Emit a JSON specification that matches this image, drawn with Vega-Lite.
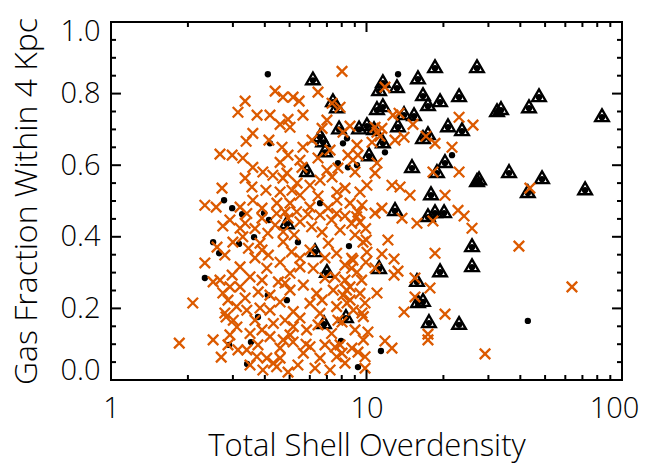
{
  "$schema": "https://vega.github.io/schema/vega-lite/v6.json",
  "width": 511,
  "height": 358,
  "autosize": "none",
  "padding": {"left": 111, "top": 22, "right": 25, "bottom": 86},
  "background": "white",
  "config": {
    "view": {"stroke": "black", "strokeWidth": 2},
    "axis": {
      "domain": false, "ticks": false, "tickSize": 0, "grid": false,
      "labelFont": "Open Sans", "labelFontSize": 29, "labelColor": "black", "labelFontWeight": 350,
      "titleFont": "Open Sans", "titleFontSize": 31, "titleFontWeight": 350, "titleColor": "black",
      "labelOverlap": false
    }
  },
  "datasets": {
    "xmaj": [{"v":1},{"v":10},{"v":100}],
    "xmin": [{"v":2},{"v":3},{"v":4},{"v":5},{"v":6},{"v":7},{"v":8},{"v":9},{"v":20},{"v":30},{"v":40},{"v":50},{"v":60},{"v":70},{"v":80},{"v":90}],
    "ymaj": [{"v":0},{"v":0.2},{"v":0.4},{"v":0.6},{"v":0.8},{"v":1}],
    "ymin": [{"v":0.05},{"v":0.1},{"v":0.15},{"v":0.25},{"v":0.3},{"v":0.35},{"v":0.45},{"v":0.5},{"v":0.55},{"v":0.65},{"v":0.7},{"v":0.75},{"v":0.85},{"v":0.9},{"v":0.95}],
    "cross": [
      {"x":1.85,"y":0.103},{"x":2.09,"y":0.215},{"x":2.33,"y":0.327},{"x":2.51,"y":0.274},{"x":2.33,"y":0.488},{"x":2.58,"y":0.483},{"x":2.72,"y":0.536},{"x":2.67,"y":0.631},{"x":2.98,"y":0.628},{"x":2.74,"y":0.430},{"x":2.51,"y":0.112},{"x":2.70,"y":0.064},{"x":2.82,"y":0.176},{"x":2.74,"y":0.243},{"x":2.92,"y":0.260},{"x":2.60,"y":0.371},{"x":2.67,"y":0.279},{"x":2.87,"y":0.223},{"x":2.79,"y":0.187},{"x":3.11,"y":0.148},{"x":3.14,"y":0.084},{"x":3.00,"y":0.385},{"x":3.14,"y":0.748},{"x":3.35,"y":0.779},{"x":3.20,"y":0.483},{"x":3.28,"y":0.620},{"x":3.35,"y":0.564},{"x":3.35,"y":0.438},
      {"x":3.40,"y":0.465},{"x":4.45,"y":0.465},{"x":5.33,"y":0.470},{"x":6.58,"y":0.461},{"x":7.64,"y":0.465},{"x":9.15,"y":0.456},{"x":3.66,"y":0.423},{"x":4.39,"y":0.433},{"x":4.72,"y":0.414},{"x":5.49,"y":0.442},{"x":6.10,"y":0.428},{"x":7.30,"y":0.447},{"x":7.88,"y":0.419},{"x":8.75,"y":0.437},{"x":9.92,"y":0.423},{"x":3.45,"y":0.368},{"x":4.13,"y":0.349},{"x":4.72,"y":0.386},{"x":5.09,"y":0.358},{"x":5.49,"y":0.340},{"x":7.09,"y":0.382},{"x":7.64,"y":0.354},{"x":8.75,"y":0.340},{"x":9.98,"y":0.391},{"x":3.28,"y":0.400},{"x":3.83,"y":0.382},{"x":3.20,"y":0.316},{"x":3.50,"y":0.288},{"x":4.07,"y":0.312},{"x":4.52,"y":0.274},{"x":5.02,"y":0.298},{"x":5.49,"y":0.316},{"x":6.19,"y":0.312},{"x":7.53,"y":0.288},{"x":8.75,"y":0.312},{"x":9.57,"y":0.279},{"x":3.20,"y":0.260},{"x":3.77,"y":0.246},{"x":5.02,"y":0.251},{"x":5.66,"y":0.265},{"x":6.38,"y":0.242},{"x":7.41,"y":0.251},{"x":8.36,"y":0.251},{"x":9.43,"y":0.242},{"x":3.10,"y":0.205},{"x":3.40,"y":0.195},{"x":3.66,"y":0.167},{"x":4.19,"y":0.195},{"x":4.80,"y":0.167},{"x":5.17,"y":0.191},{"x":6.01,"y":0.214},{"x":6.58,"y":0.186},{"x":7.64,"y":0.205},{"x":8.88,"y":0.195},{"x":9.72,"y":0.177},{"x":3.01,"y":0.167},{"x":3.50,"y":0.130},{"x":4.32,"y":0.158},{"x":5.17,"y":0.149},{"x":5.83,"y":0.140},{"x":7.30,"y":0.130},{"x":9.72,"y":0.112},{"x":4.19,"y":0.121},{"x":4.72,"y":0.112},{"x":3.72,"y":0.065},{"x":4.07,"y":0.061},{"x":4.59,"y":0.061},{"x":5.16,"y":0.106},{"x":5.66,"y":0.075},{"x":6.01,"y":0.093},{"x":6.58,"y":0.061},{"x":7.64,"y":0.065},{"x":8.24,"y":0.047},{"x":9.87,"y":0.065},{"x":3.40,"y":0.084},{"x":4.32,"y":0.047},{"x":5.80,"y":0.100},{"x":4.45,"y":0.037},
      {"x":2.92,"y":0.447},{"x":3.90,"y":0.452},{"x":4.93,"y":0.452},{"x":5.90,"y":0.463},{"x":8.24,"y":0.458},{"x":9.43,"y":0.441},{"x":3.20,"y":0.424},{"x":4.11,"y":0.410},{"x":5.21,"y":0.405},{"x":6.70,"y":0.413},{"x":9.02,"y":0.405},{"x":3.90,"y":0.363},{"x":2.79,"y":0.349},{"x":3.66,"y":0.341},{"x":4.59,"y":0.329},{"x":6.01,"y":0.363},{"x":6.88,"y":0.341},{"x":8.24,"y":0.321},{"x":9.95,"y":0.329},{"x":2.98,"y":0.293},{"x":3.90,"y":0.279},{"x":4.80,"y":0.271},{"x":6.88,"y":0.285},{"x":8.24,"y":0.279},{"x":3.35,"y":0.229},{"x":4.19,"y":0.237},{"x":4.59,"y":0.218},{"x":6.70,"y":0.223},{"x":8.62,"y":0.223},{"x":9.87,"y":0.215},{"x":2.92,"y":0.126},{"x":3.83,"y":0.201},{"x":3.90,"y":0.140},{"x":5.02,"y":0.126},{"x":6.46,"y":0.154},{"x":8.02,"y":0.162},{"x":9.02,"y":0.140},{"x":5.49,"y":0.173},{"x":2.87,"y":0.098},{"x":3.76,"y":0.098},{"x":4.59,"y":0.089},{"x":5.39,"y":0.042},{"x":6.88,"y":0.098},{"x":8.77,"y":0.089},{"x":9.87,"y":0.033},{"x":3.50,"y":0.042},{"x":3.93,"y":0.028},{"x":4.93,"y":0.022},{"x":6.29,"y":0.033},{"x":7.20,"y":0.028},{"x":7.88,"y":0.098},
      {"x":8.02,"y":0.862},{"x":4.39,"y":0.807},{"x":4.71,"y":0.790},{"x":5.16,"y":0.790},{"x":5.45,"y":0.779},{"x":6.46,"y":0.804},{"x":3.73,"y":0.740},{"x":4.19,"y":0.740},{"x":4.93,"y":0.728},{"x":4.59,"y":0.714},{"x":5.02,"y":0.706},{"x":5.64,"y":0.740},{"x":3.59,"y":0.689},{"x":3.38,"y":0.667},{"x":4.15,"y":0.670},{"x":4.67,"y":0.650},{"x":5.64,"y":0.650},{"x":3.59,"y":0.594},{"x":3.93,"y":0.581},{"x":4.30,"y":0.572},{"x":4.88,"y":0.578},{"x":3.56,"y":0.539},{"x":3.59,"y":0.502},{"x":4.93,"y":0.628},{"x":4.59,"y":0.608},{"x":5.49,"y":0.614},{"x":5.59,"y":0.594},{"x":4.71,"y":0.564},{"x":4.59,"y":0.525},{"x":5.35,"y":0.550},{"x":6.01,"y":0.544},{"x":7.00,"y":0.586},{"x":6.58,"y":0.558},{"x":4.46,"y":0.494},{"x":5.02,"y":0.494},{"x":6.01,"y":0.483},{"x":7.66,"y":0.502},{"x":8.62,"y":0.494},{"x":7.00,"y":0.726},{"x":6.70,"y":0.703},{"x":8.09,"y":0.692},{"x":8.46,"y":0.628},{"x":7.33,"y":0.567},{"x":7.66,"y":0.525},{"x":10.04,"y":0.544},{"x":9.43,"y":0.525},{"x":7.33,"y":0.773},{"x":7.88,"y":0.762},{"x":8.62,"y":0.709},{"x":8.85,"y":0.614},{"x":9.26,"y":0.628},{"x":10.80,"y":0.706},{"x":10.99,"y":0.692},{"x":11.49,"y":0.703},{"x":11.29,"y":0.681},{"x":10.51,"y":0.664},{"x":10.99,"y":0.606},{"x":10.80,"y":0.578},{"x":11.81,"y":0.818},{"x":12.69,"y":0.740},{"x":13.41,"y":0.745},{"x":15.20,"y":0.714},{"x":12.93,"y":0.670},{"x":14.03,"y":0.678},{"x":17.09,"y":0.681},{"x":18.54,"y":0.661},{"x":21.61,"y":0.650},{"x":23.03,"y":0.734},{"x":26.11,"y":0.712},{"x":18.20,"y":0.581},{"x":23.03,"y":0.581},{"x":12.58,"y":0.544},{"x":13.53,"y":0.539},{"x":14.80,"y":0.516},{"x":20.29,"y":0.516},{"x":43.6,"y":0.536},{"x":6.12,"y":0.670},{"x":6.46,"y":0.620},{"x":7.20,"y":0.642},{"x":7.73,"y":0.592},{"x":9.02,"y":0.581},{"x":9.60,"y":0.488},{"x":4.04,"y":0.530},{"x":5.49,"y":0.516},{"x":6.46,"y":0.514},{"x":7.07,"y":0.480},{"x":8.24,"y":0.536},{"x":9.18,"y":0.656},{"x":5.11,"y":0.530},{"x":3.90,"y":0.480},{"x":4.80,"y":0.469},
      {"x":22.81,"y":0.474},{"x":24.09,"y":0.458},{"x":25.88,"y":0.424},{"x":15.76,"y":0.438},{"x":18.20,"y":0.444},{"x":13.77,"y":0.452},{"x":10.80,"y":0.466},{"x":11.49,"y":0.480},{"x":12.13,"y":0.391},{"x":11.49,"y":0.352},{"x":12.82,"y":0.338},{"x":10.80,"y":0.313},{"x":13.28,"y":0.304},{"x":12.82,"y":0.293},{"x":18.54,"y":0.354},{"x":15.48,"y":0.285},{"x":17.72,"y":0.257},{"x":10.99,"y":0.243},{"x":15.48,"y":0.232},{"x":14.03,"y":0.190},{"x":20.29,"y":0.184},{"x":17.40,"y":0.128},{"x":17.40,"y":0.112},{"x":11.81,"y":0.109},{"x":12.58,"y":0.089},{"x":29.10,"y":0.073},{"x":39.5,"y":0.374},{"x":63.7,"y":0.260},{"x":9.26,"y":0.469},{"x":9.69,"y":0.385},{"x":10.04,"y":0.357},{"x":8.85,"y":0.335},{"x":9.18,"y":0.301},{"x":8.62,"y":0.260},{"x":8.09,"y":0.237},{"x":8.39,"y":0.215},{"x":7.73,"y":0.167},{"x":9.60,"y":0.187},{"x":10.13,"y":0.134},{"x":9.26,"y":0.078},{"x":8.02,"y":0.075},{"x":7.53,"y":0.092}
    ],
    "dot": [
      {"x":4.11,"y":0.854},{"x":4.19,"y":0.661},{"x":2.77,"y":0.502},{"x":2.98,"y":0.480},{"x":3.26,"y":0.463},{"x":3.97,"y":0.466},{"x":4.15,"y":0.447},{"x":6.58,"y":0.494},{"x":8.39,"y":0.675},{"x":8.09,"y":0.661},{"x":7.73,"y":0.606},{"x":8.46,"y":0.594},{"x":9.18,"y":0.600},{"x":13.29,"y":0.854},{"x":11.81,"y":0.636},{"x":21.61,"y":0.628},{"x":2.51,"y":0.385},{"x":2.65,"y":0.354},{"x":2.33,"y":0.285},{"x":3.17,"y":0.380},{"x":3.63,"y":0.399},{"x":5.39,"y":0.385},{"x":8.54,"y":0.374},{"x":4.88,"y":0.223},{"x":4.11,"y":0.237},{"x":3.76,"y":0.176},{"x":2.90,"y":0.098},{"x":3.53,"y":0.106},{"x":3.41,"y":0.045},{"x":7.95,"y":0.109},{"x":9.26,"y":0.036},{"x":11.39,"y":0.081},{"x":42.8,"y":0.165},{"x":10.90,"y":0.689}
    ],
    "tri": [
      {"x":6.17,"y":0.837},{"x":15.90,"y":0.840},{"x":18.54,"y":0.871},{"x":27.07,"y":0.871},{"x":13.16,"y":0.815},{"x":11.59,"y":0.829},{"x":11.20,"y":0.807},{"x":16.64,"y":0.793},{"x":19.40,"y":0.776},{"x":17.40,"y":0.765},{"x":23.03,"y":0.790},{"x":47.33,"y":0.790},{"x":32.42,"y":0.748},{"x":33.61,"y":0.754},{"x":43.25,"y":0.759},{"x":83.5,"y":0.734},{"x":7.39,"y":0.776},{"x":7.66,"y":0.759},{"x":10.99,"y":0.754},{"x":11.59,"y":0.762},{"x":15.35,"y":0.737},{"x":14.03,"y":0.740},{"x":13.28,"y":0.706},{"x":9.35,"y":0.700},{"x":10.04,"y":0.709},{"x":10.70,"y":0.698},{"x":20.84,"y":0.706},{"x":23.65,"y":0.695},{"x":16.64,"y":0.673},{"x":17.40,"y":0.684},{"x":6.58,"y":0.678},{"x":6.76,"y":0.664},{"x":6.88,"y":0.636},{"x":7.81,"y":0.700},{"x":11.59,"y":0.661},{"x":10.23,"y":0.625},{"x":20.29,"y":0.606},{"x":15.07,"y":0.592},{"x":18.87,"y":0.578},{"x":27.07,"y":0.553},{"x":27.57,"y":0.558},{"x":36.13,"y":0.578},{"x":48.64,"y":0.561},{"x":71.7,"y":0.530},{"x":42.8,"y":0.522},{"x":17.88,"y":0.516},{"x":5.85,"y":0.581},{"x":12.93,"y":0.472},{"x":17.40,"y":0.455},{"x":18.54,"y":0.466},{"x":20.12,"y":0.466},{"x":25.88,"y":0.371},{"x":19.40,"y":0.301},{"x":25.88,"y":0.315},{"x":11.20,"y":0.310},{"x":15.76,"y":0.274},{"x":15.90,"y":0.215},{"x":16.64,"y":0.218},{"x":17.56,"y":0.159},{"x":23.03,"y":0.154},{"x":7.00,"y":0.299},{"x":6.82,"y":0.156},{"x":8.31,"y":0.173},{"x":4.88,"y":0.435},{"x":6.29,"y":0.357}
    ]
  },
  "resolve": {"axis": {"x": "independent", "y": "independent"}},
  "layer": [
    {
      "data": {"name": "dot"},
      "mark": {"type": "point", "shape": "circle", "filled": true, "color": "black", "size": 40, "opacity": 1},
      "encoding": {
        "x": {"field": "x", "type": "quantitative", "scale": {"type": "log", "domain": [1, 100], "nice": false},
          "axis": {"orient": "bottom", "title": "Total Shell Overdensity", "values": [1, 10, 100],
            "format": "d", "labelFlush": false, "labelPadding": 14, "titlePadding": 8,
            "labelOffset": {"condition": {"test": "datum.value == 100", "value": -8}, "value": 0}}},
        "y": {"field": "y", "type": "quantitative", "scale": {"domain": [0, 1], "nice": false, "zero": false},
          "axis": {"orient": "left", "title": "Gas Fraction Within 4 Kpc", "titleFontSize": 32,
            "values": [0, 0.2, 0.4, 0.6, 0.8, 1], "format": ".1f",
            "labelFlush": true, "labelFlushOffset": 5, "labelPadding": 11, "titlePadding": 16}}
      }
    },
    {
      "data": {"name": "tri"},
      "mark": {"type": "point", "shape": "M0,-1.15L1,0.58L-1,0.58Z", "filled": false, "stroke": "black", "strokeWidth": 2.4, "size": 185, "opacity": 1},
      "encoding": {
        "x": {"field": "x", "type": "quantitative", "scale": {"type": "log", "domain": [1, 100], "nice": false}, "axis": null},
        "y": {"field": "y", "type": "quantitative", "scale": {"domain": [0, 1], "nice": false, "zero": false}, "axis": null}
      }
    },
    {
      "data": {"name": "tri"},
      "mark": {"type": "point", "shape": "circle", "filled": true, "color": "black", "size": 40, "opacity": 1},
      "encoding": {
        "x": {"field": "x", "type": "quantitative", "scale": {"type": "log", "domain": [1, 100], "nice": false}, "axis": null},
        "y": {"field": "y", "type": "quantitative", "scale": {"domain": [0, 1], "nice": false, "zero": false}, "axis": null}
      }
    },
    {
      "data": {"name": "cross"},
      "mark": {"type": "point", "shape": "M-1,-1L1,1M-1,1L1,-1", "filled": false, "stroke": "#dc5a00", "strokeWidth": 2.3, "size": 110, "opacity": 1},
      "encoding": {
        "x": {"field": "x", "type": "quantitative", "scale": {"type": "log", "domain": [1, 100], "nice": false}, "axis": null},
        "y": {"field": "y", "type": "quantitative", "scale": {"domain": [0, 1], "nice": false, "zero": false}, "axis": null}
      }
    },
    {
      "mark": {"type": "rule", "color": "#1fa01f", "strokeWidth": 2, "strokeDash": [2, 4]},
      "encoding": {
        "x": {"datum": 10, "type": "quantitative", "scale": {"type": "log", "domain": [1, 100], "nice": false}, "axis": null}
      }
    },
    {
      "mark": {"type": "rule", "color": "#1fa01f", "strokeWidth": 2, "strokeDash": [2, 4]},
      "encoding": {
        "y": {"datum": 0.5, "type": "quantitative", "scale": {"domain": [0, 1], "nice": false, "zero": false}, "axis": null}
      }
    },
    {
      "data": {"name": "xmaj"},
      "mark": {"type": "rule", "color": "black", "strokeWidth": 2},
      "encoding": {
        "x": {"field": "v", "type": "quantitative", "scale": {"type": "log", "domain": [1, 100], "nice": false}, "axis": null},
        "y": {"datum": 0, "type": "quantitative", "scale": {"domain": [0, 1], "nice": false, "zero": false}, "axis": null},
        "y2": {"datum": 0.028}
      }
    },
    {
      "data": {"name": "xmaj"},
      "mark": {"type": "rule", "color": "black", "strokeWidth": 2},
      "encoding": {
        "x": {"field": "v", "type": "quantitative", "scale": {"type": "log", "domain": [1, 100], "nice": false}, "axis": null},
        "y": {"datum": 1, "type": "quantitative", "scale": {"domain": [0, 1], "nice": false, "zero": false}, "axis": null},
        "y2": {"datum": 0.972}
      }
    },
    {
      "data": {"name": "xmin"},
      "mark": {"type": "rule", "color": "black", "strokeWidth": 2},
      "encoding": {
        "x": {"field": "v", "type": "quantitative", "scale": {"type": "log", "domain": [1, 100], "nice": false}, "axis": null},
        "y": {"datum": 0, "type": "quantitative", "scale": {"domain": [0, 1], "nice": false, "zero": false}, "axis": null},
        "y2": {"datum": 0.014}
      }
    },
    {
      "data": {"name": "xmin"},
      "mark": {"type": "rule", "color": "black", "strokeWidth": 2},
      "encoding": {
        "x": {"field": "v", "type": "quantitative", "scale": {"type": "log", "domain": [1, 100], "nice": false}, "axis": null},
        "y": {"datum": 1, "type": "quantitative", "scale": {"domain": [0, 1], "nice": false, "zero": false}, "axis": null},
        "y2": {"datum": 0.986}
      }
    },
    {
      "data": {"name": "ymaj"},
      "mark": {"type": "rule", "color": "black", "strokeWidth": 2},
      "encoding": {
        "y": {"field": "v", "type": "quantitative", "scale": {"domain": [0, 1], "nice": false, "zero": false}, "axis": null},
        "x": {"datum": 1, "type": "quantitative", "scale": {"type": "log", "domain": [1, 100], "nice": false}, "axis": null},
        "x2": {"datum": 1.094}
      }
    },
    {
      "data": {"name": "ymaj"},
      "mark": {"type": "rule", "color": "black", "strokeWidth": 2},
      "encoding": {
        "y": {"field": "v", "type": "quantitative", "scale": {"domain": [0, 1], "nice": false, "zero": false}, "axis": null},
        "x": {"datum": 100, "type": "quantitative", "scale": {"type": "log", "domain": [1, 100], "nice": false}, "axis": null},
        "x2": {"datum": 91.4}
      }
    },
    {
      "data": {"name": "ymin"},
      "mark": {"type": "rule", "color": "black", "strokeWidth": 2},
      "encoding": {
        "y": {"field": "v", "type": "quantitative", "scale": {"domain": [0, 1], "nice": false, "zero": false}, "axis": null},
        "x": {"datum": 1, "type": "quantitative", "scale": {"type": "log", "domain": [1, 100], "nice": false}, "axis": null},
        "x2": {"datum": 1.046}
      }
    },
    {
      "data": {"name": "ymin"},
      "mark": {"type": "rule", "color": "black", "strokeWidth": 2},
      "encoding": {
        "y": {"field": "v", "type": "quantitative", "scale": {"domain": [0, 1], "nice": false, "zero": false}, "axis": null},
        "x": {"datum": 100, "type": "quantitative", "scale": {"type": "log", "domain": [1, 100], "nice": false}, "axis": null},
        "x2": {"datum": 95.6}
      }
    }
  ]
}
